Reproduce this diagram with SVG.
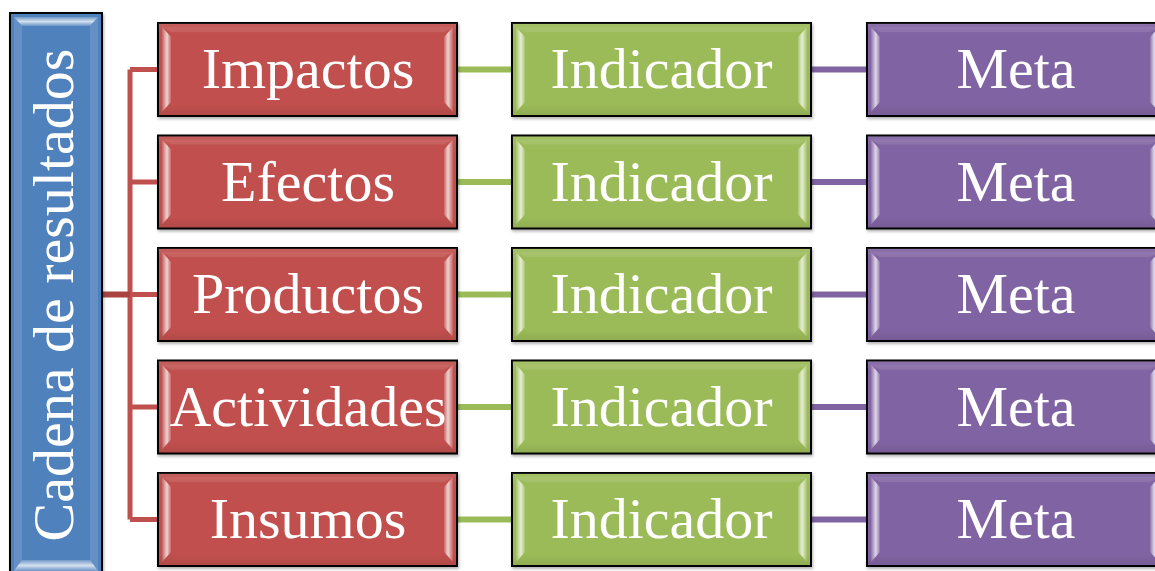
<svg xmlns="http://www.w3.org/2000/svg" width="1155" height="571" viewBox="0 0 1155 571">
  <defs>
    <linearGradient id="bvL" x1="0" y1="0" x2="1" y2="0">
      <stop offset="0" stop-color="#fff" stop-opacity="0.1"/>
      <stop offset="0.55" stop-color="#fff" stop-opacity="0.75"/>
      <stop offset="1" stop-color="#fff" stop-opacity="0.15"/>
    </linearGradient>
    <linearGradient id="bvR" x1="1" y1="0" x2="0" y2="0">
      <stop offset="0" stop-color="#fff" stop-opacity="0.1"/>
      <stop offset="0.55" stop-color="#fff" stop-opacity="0.75"/>
      <stop offset="1" stop-color="#fff" stop-opacity="0.15"/>
    </linearGradient>
    <linearGradient id="bvT" x1="0" y1="0" x2="0" y2="1">
      <stop offset="0" stop-color="#fff" stop-opacity="0.2"/>
      <stop offset="0.5" stop-color="#fff" stop-opacity="0.75"/>
      <stop offset="1" stop-color="#fff" stop-opacity="0.15"/>
    </linearGradient>
    <linearGradient id="shade" x1="0" y1="0" x2="0" y2="1">
      <stop offset="0" stop-color="#fff" stop-opacity="0.1"/>
      <stop offset="0.12" stop-color="#fff" stop-opacity="0"/>
      <stop offset="0.88" stop-color="#000" stop-opacity="0"/>
      <stop offset="1" stop-color="#000" stop-opacity="0.08"/>
    </linearGradient>
    <filter id="sh" x="-5%" y="-5%" width="110%" height="120%">
      <feDropShadow dx="1" dy="2" stdDeviation="1.5" flood-color="#000" flood-opacity="0.3"/>
    </filter>
    <symbol id="bevel" viewBox="0 0 299 93" preserveAspectRatio="none">
      <polygon points="4,4 13,14 13,79 4,89" fill="url(#bvL)"/>
      <polygon points="295,4 286,14 286,79 295,89" fill="url(#bvR)"/>
      <polygon points="4,4 295,4 286,9 13,9" fill="#fff" fill-opacity="0.08"/>
      <rect x="0" y="0" width="299" height="93" fill="url(#shade)"/>
    </symbol>
  </defs>
  <style>
    .box { stroke: #000; stroke-width: 2; }
    .red { fill: #C0504D; }
    .green { fill: #9BBB59; }
    .purple { fill: #8064A2; }
    .blue { fill: #4F81BD; }
    .lbl { font-family: "Liberation Serif", "DejaVu Serif", serif; font-size: 58px; fill: #fff; text-anchor: middle; }
    .cr { stroke: #C0504D; stroke-width: 5; fill: none; }
    .cg { stroke: #9BBB59; stroke-width: 6; fill: none; }
    .cp { stroke: #8064A2; stroke-width: 6; fill: none; }
  </style>

  <g id="connectors">
    <path class="cr" d="M130,69.5 V519.5 M130,69.5 H158 M130,182 H158 M130,294.5 H158 M130,407 H158 M130,519.5 H158"/>
    <path d="M102,294.5 H130" stroke="#A9433F" stroke-width="6" fill="none"/>
    <path class="cg" d="M457,69.5 H512 M457,182 H512 M457,294.5 H512 M457,407 H512 M457,519.5 H512"/>
    <path class="cp" d="M811,69.5 H867 M811,182 H867 M811,294.5 H867 M811,407 H867 M811,519.5 H867"/>
  </g>

  <g id="cadena">
    <rect class="box blue" x="10" y="13" width="92" height="570" filter="url(#sh)"/>
    <polygon points="14,17 98,17 90,26 22,26" fill="url(#bvT)"/>
    <polygon points="14,17 22,26 22,560 14,575" fill="#fff" fill-opacity="0.12"/>
    <polygon points="98,17 90,26 90,560 98,575" fill="#fff" fill-opacity="0.12"/>
    <polygon points="22,560 90,560 98,571 14,571" fill="url(#bvT)"/>
    <text class="lbl" transform="translate(73,295) rotate(-90)" x="0" y="0" font-size="59">Cadena de resultados</text>
  </g>

  <g id="impactos">
    <rect class="box red" x="158" y="23" width="299" height="93" filter="url(#sh)"/>
    <use href="#bevel" x="158" y="23" width="299" height="93"/>
    <text class="lbl" x="308" y="88">Impactos</text>
  </g>
  <g id="efectos">
    <rect class="box red" x="158" y="135.5" width="299" height="93" filter="url(#sh)"/>
    <use href="#bevel" x="158" y="135.5" width="299" height="93"/>
    <text class="lbl" x="308" y="200.5">Efectos</text>
  </g>
  <g id="productos">
    <rect class="box red" x="158" y="248" width="299" height="93" filter="url(#sh)"/>
    <use href="#bevel" x="158" y="248" width="299" height="93"/>
    <text class="lbl" x="308" y="313">Productos</text>
  </g>
  <g id="actividades">
    <rect class="box red" x="158" y="360.5" width="299" height="93" filter="url(#sh)"/>
    <use href="#bevel" x="158" y="360.5" width="299" height="93"/>
    <text class="lbl" x="308" y="425.5">Actividades</text>
  </g>
  <g id="insumos">
    <rect class="box red" x="158" y="473" width="299" height="93" filter="url(#sh)"/>
    <use href="#bevel" x="158" y="473" width="299" height="93"/>
    <text class="lbl" x="308" y="538">Insumos</text>
  </g>

  <g id="indicador1">
    <rect class="box green" x="512" y="23" width="299" height="93" filter="url(#sh)"/>
    <use href="#bevel" x="512" y="23" width="299" height="93"/>
    <text class="lbl" x="661.5" y="88">Indicador</text>
  </g>
  <g id="indicador2">
    <rect class="box green" x="512" y="135.5" width="299" height="93" filter="url(#sh)"/>
    <use href="#bevel" x="512" y="135.5" width="299" height="93"/>
    <text class="lbl" x="661.5" y="200.5">Indicador</text>
  </g>
  <g id="indicador3">
    <rect class="box green" x="512" y="248" width="299" height="93" filter="url(#sh)"/>
    <use href="#bevel" x="512" y="248" width="299" height="93"/>
    <text class="lbl" x="661.5" y="313">Indicador</text>
  </g>
  <g id="indicador4">
    <rect class="box green" x="512" y="360.5" width="299" height="93" filter="url(#sh)"/>
    <use href="#bevel" x="512" y="360.5" width="299" height="93"/>
    <text class="lbl" x="661.5" y="425.5">Indicador</text>
  </g>
  <g id="indicador5">
    <rect class="box green" x="512" y="473" width="299" height="93" filter="url(#sh)"/>
    <use href="#bevel" x="512" y="473" width="299" height="93"/>
    <text class="lbl" x="661.5" y="538">Indicador</text>
  </g>

  <g id="meta1">
    <rect class="box purple" x="867" y="23" width="296" height="93" filter="url(#sh)"/>
    <use href="#bevel" x="867" y="23" width="296" height="93"/>
    <text class="lbl" x="1016" y="88">Meta</text>
  </g>
  <g id="meta2">
    <rect class="box purple" x="867" y="135.5" width="296" height="93" filter="url(#sh)"/>
    <use href="#bevel" x="867" y="135.5" width="296" height="93"/>
    <text class="lbl" x="1016" y="200.5">Meta</text>
  </g>
  <g id="meta3">
    <rect class="box purple" x="867" y="248" width="296" height="93" filter="url(#sh)"/>
    <use href="#bevel" x="867" y="248" width="296" height="93"/>
    <text class="lbl" x="1016" y="313">Meta</text>
  </g>
  <g id="meta4">
    <rect class="box purple" x="867" y="360.5" width="296" height="93" filter="url(#sh)"/>
    <use href="#bevel" x="867" y="360.5" width="296" height="93"/>
    <text class="lbl" x="1016" y="425.5">Meta</text>
  </g>
  <g id="meta5">
    <rect class="box purple" x="867" y="473" width="296" height="93" filter="url(#sh)"/>
    <use href="#bevel" x="867" y="473" width="296" height="93"/>
    <text class="lbl" x="1016" y="538">Meta</text>
  </g>
</svg>
